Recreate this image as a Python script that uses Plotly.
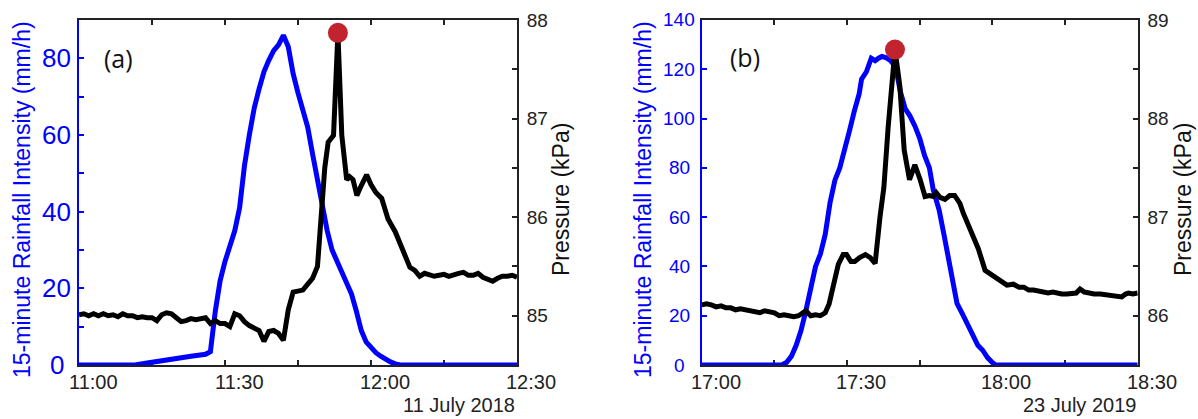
import plotly.graph_objects as go

# ---------------- data: panel (a) 11 July 2018 (minutes after 11:00) ----------------
rain_a_min = [0, 5, 10, 11.5, 14, 17, 20, 23, 26, 27, 28, 29, 30, 31, 32, 33, 34, 35, 36, 37, 38, 39, 40, 41,
              42, 43, 44, 45, 46, 47, 48, 49, 50, 51, 52, 53, 54, 55, 56, 57, 58, 59, 60, 61, 62, 63, 64, 65,
              66, 70, 80, 90]
rain_a = [0, 0, 0, 0, 0.5, 1.2, 1.9, 2.3, 2.8, 3.5, 14, 22, 27, 31, 35, 41, 52, 60, 67, 72, 76.5, 79.5, 82,
          83.5, 86, 83, 76, 71, 67, 62, 55, 48, 42, 35, 30, 27, 24, 21, 18.5, 14, 9, 6, 4.5, 3.2, 2.3, 1.5,
          0.8, 0.3, 0, 0, 0, 0]
pres_a_min = [0, 1, 2, 3, 4, 5, 6, 7, 8, 9, 10, 11, 12, 13, 14, 15, 16, 17, 18, 19, 20, 21, 22, 23, 24, 25,
              26, 27, 28, 29, 30, 31, 32, 33, 34, 35, 36, 37, 38, 39, 40, 41, 42, 43, 44, 45, 46, 47, 48, 49,
              49.8, 50.5, 51.2, 52.3, 53.2, 54, 55, 55.6, 56.3, 57.1, 58, 59.1, 60, 61, 62.2, 63.5, 65, 66.5,
              68, 69, 70, 71, 72, 73, 74, 75, 76, 77, 78, 79, 80, 81, 82, 83, 84, 85, 86, 87, 88, 89, 90]
pres_a = [85.01, 85.02, 85.0, 85.02, 85.0, 85.02, 85.0, 85.01, 84.99, 85.02, 85.0, 85.0, 84.98, 84.99,
          84.98, 84.98, 84.95, 85.01, 85.03, 85.02, 84.98, 84.94, 84.95, 84.97, 84.96, 84.97, 84.98, 84.92,
          84.95, 84.92, 84.92, 84.89, 85.02, 85.0, 84.94, 84.9, 84.87, 84.85, 84.74, 84.84, 84.85, 84.82,
          84.75, 85.06, 85.24, 85.25, 85.26, 85.32, 85.38, 85.5, 86.0, 86.5, 86.76, 86.83, 87.87, 86.83,
          86.38, 86.41, 86.38, 86.22, 86.32, 86.43, 86.33, 86.25, 86.19, 85.98, 85.85, 85.68, 85.49, 85.46,
          85.40, 85.43, 85.41, 85.40, 85.41, 85.42, 85.40, 85.42, 85.43, 85.44, 85.41, 85.41, 85.43, 85.39,
          85.37, 85.35, 85.38, 85.40, 85.40, 85.41, 85.39]
peak_a_min = [53.2]
peak_a = [87.87]
ticks_a_min = [0, 30, 60, 90]
ticks_a_text = ["11:00", "11:30", "12:00", "12:30"]
rain_a_labels = [0, 20, 40, 60, 80]

# ---------------- data: panel (b) 23 July 2019 (minutes after 17:00) ----------------
rain_b_min = [0, 10, 16.5, 17.5, 18.5, 19.5, 20.5, 21.5, 22.5, 23.5, 24.5, 25.5, 26.5, 27.5, 28.5, 29.5,
              30.5, 31.5, 32.5, 33, 34, 35, 35.8, 36.5, 37.2, 38, 39, 40, 41, 42, 43, 44, 45, 46, 47, 47.8,
              49, 50, 51, 52, 52.7, 54, 55.4, 57, 58, 59, 60, 60.7, 70, 90]
rain_b = [0, 0, 0, 1, 3.5, 8, 14, 22, 32, 40, 45, 53, 66, 75, 80, 87, 95, 103, 110, 116, 119, 124.5, 123.5,
          124.5, 125.2, 124.8, 123.5, 121, 111, 104, 101, 97, 92, 85, 80, 71, 63, 53, 43, 31, 25, 20, 14, 8,
          6, 3, 1, 0, 0, 0]
pres_b_min = [0, 1, 2, 3, 4, 5, 6, 7, 8, 9, 10, 11, 12, 13, 14, 15, 16, 17, 18, 19, 20, 21, 21.5, 22.5,
              23.5, 24.5, 25.5, 26.3, 27.3, 28.2, 29.2, 29.9, 30.8, 31.6, 32.6, 33.8, 34.8, 35.8, 36.8, 37.6,
              38.5, 39.9, 40.9, 41.8, 42.9, 44, 45.1, 46.1, 47, 47.8, 48.4, 49.2, 50.2, 51.2, 52.2, 53.3, 54,
              55.4, 57.1, 58.5, 59.9, 61, 62, 63, 64.3, 65.5, 66.5, 67.5, 68.5, 69.5, 70.5, 71.5, 72.5, 73.3,
              74.3, 75.4, 76.5, 77.3, 78.1, 79, 80, 81, 82.3, 83.5, 85, 86, 86.7, 87.5, 88.1, 89, 90]
pres_b = [86.11, 86.12, 86.11, 86.09, 86.1, 86.08, 86.08, 86.06, 86.07, 86.06, 86.05, 86.04, 86.03, 86.05,
          86.04, 86.03, 86.0, 86.01, 86.0, 85.99, 86.0, 86.04, 86.05, 86.0, 86.01, 86.0, 86.03, 86.12, 86.35,
          86.52, 86.62, 86.62, 86.55, 86.55, 86.59, 86.62, 86.59, 86.53, 87.0, 87.3, 87.92, 88.70, 88.33,
          87.68, 87.38, 87.53, 87.38, 87.21, 87.22, 87.21, 87.25, 87.2, 87.18, 87.22, 87.22, 87.14, 87.04,
          86.87, 86.68, 86.46, 86.41, 86.38, 86.34, 86.31, 86.32, 86.29, 86.29, 86.26, 86.26, 86.25, 86.24,
          86.23, 86.24, 86.23, 86.22, 86.22, 86.23, 86.23, 86.27, 86.24, 86.23, 86.22, 86.22, 86.21, 86.2,
          86.19, 86.19, 86.22, 86.23, 86.22, 86.23]
peak_b_min = [39.9]
peak_b = [88.70]
ticks_b_min = [0, 30, 60, 90]
ticks_b_text = ["17:00", "17:30", "18:00", "18:30"]
rain_b_labels = [0, 20, 40, 60, 80, 100, 120, 140]

# ---------------- text ----------------
rain_title = "15-minute Rainfall Intensity (mm/h)"
pres_title = "Pressure (kPa)"
panel_labels = ["(a)", "(b)"]
date_labels = ["11 July 2018", "23 July 2019"]

BLUE = "#0000FF"
BLACK = "#000000"
DARK = "#222222"
RED = "#C1232F"
FONT = "Liberation Sans"
LW = 5
AXW = 2
TKW = 2

fig = go.Figure()
fig.add_trace(go.Scatter(x=rain_a_min, y=rain_a, mode="lines",
                         line=dict(color=BLUE, width=LW), xaxis="x", yaxis="y"))
fig.add_trace(go.Scatter(x=pres_a_min, y=pres_a, mode="lines",
                         line=dict(color=BLACK, width=LW), xaxis="x", yaxis="y2"))
fig.add_trace(go.Scatter(x=peak_a_min, y=peak_a, mode="markers",
                         marker=dict(color=RED, size=20, line=dict(width=0)), xaxis="x", yaxis="y2"))
fig.add_trace(go.Scatter(x=rain_b_min, y=rain_b, mode="lines",
                         line=dict(color=BLUE, width=LW), xaxis="x2", yaxis="y3"))
fig.add_trace(go.Scatter(x=pres_b_min, y=pres_b, mode="lines",
                         line=dict(color=BLACK, width=LW), xaxis="x2", yaxis="y4"))
fig.add_trace(go.Scatter(x=peak_b_min, y=peak_b, mode="markers",
                         marker=dict(color=RED, size=20, line=dict(width=0)), xaxis="x2", yaxis="y4"))

W, H = 1198, 419
ydom = [1 - 365 / H, 1 - 20 / H]


def xaxis(dom, anchor):
    return dict(domain=dom, anchor=anchor, automargin=False, range=[0, 90],
                tick0=0, dtick=30, showticklabels=False,
                ticks="inside", ticklen=5, tickwidth=TKW, tickcolor=DARK,
                minor=dict(dtick=15, ticks="inside", ticklen=5, tickwidth=TKW, tickcolor=DARK, showgrid=False),
                showline=True, linecolor=DARK, linewidth=AXW, mirror="ticks", layer="below traces",
                showgrid=False, zeroline=False)


def yleft(dom_anchor, rng, dtick, minor):
    d = dict(anchor=dom_anchor, domain=ydom, range=rng, dtick=dtick, tick0=0, automargin=False,
             showticklabels=False, layer="below traces",
             ticks="inside", ticklen=5, tickwidth=TKW, tickcolor=BLUE, showline=True, linecolor=BLUE,
             linewidth=AXW, showgrid=False, zeroline=False)
    if minor:
        d["minor"] = dict(dtick=minor, ticks="inside", ticklen=5, tickwidth=TKW, tickcolor=BLUE,
                          showgrid=False)
    return d


def yright(dom_anchor, over, rng):
    return dict(anchor=dom_anchor, overlaying=over, side="right", range=rng, dtick=1, tick0=80,
                automargin=False, layer="below traces",
                ticks="inside", ticklen=5, tickwidth=TKW, tickcolor=DARK, showline=True, linecolor=DARK,
                linewidth=AXW, showgrid=False, zeroline=False,
                minor=dict(dtick=0.5, ticks="inside", ticklen=5, tickwidth=TKW, tickcolor=DARK,
                           showgrid=False),
                tickfont=dict(family=FONT, size=19, color=DARK), ticklabelstandoff=4)


annotations = []
# x tick labels (drawn slightly right of their ticks, as in the original figure)
for xref, vals, texts in [("x", ticks_a_min, ticks_a_text), ("x2", ticks_b_min, ticks_b_text)]:
    for v, t in zip(vals, texts):
        annotations.append(dict(x=v, xref=xref, y=1 - 382 / H, yref="paper", text=t, showarrow=False,
                                xanchor="center", yanchor="middle", xshift=14,
                                font=dict(family=FONT, size=20, color=DARK)))
# left (blue) tick labels, centred in their column as in the original
for yref, vals, cx, size in [("y", rain_a_labels, 56.5, 26), ("y3", rain_b_labels, 679, 19)]:
    for v in vals:
        annotations.append(dict(x=cx / W, xref="paper", y=v, yref=yref, text=str(v), showarrow=False,
                                xanchor="center", yanchor="middle",
                                font=dict(family=FONT, size=size, color=BLUE)))
for cx, txt, col in [(22, rain_title, BLUE), (561, pres_title, "#111"),
                     (643, rain_title, BLUE), (1183, pres_title, "#111")]:
    annotations.append(dict(x=cx / W, y=1 - 200 / H, xref="paper", yref="paper", text=txt,
                            textangle=-90, showarrow=False, xanchor="center", yanchor="middle",
                            font=dict(family=FONT, size=23, color=col)))
for cx, cy, txt in [(118, 58, panel_labels[0]), (745, 57, panel_labels[1])]:
    annotations.append(dict(x=cx / W, y=1 - cy / H, xref="paper", yref="paper", text=txt,
                            showarrow=False, xanchor="center", yanchor="middle",
                            font=dict(family="Open Sans", size=25, color="#111")))
for rx, txt in [(517, date_labels[0]), (1138, date_labels[1])]:
    annotations.append(dict(x=rx / W, y=1 - 405 / H, xref="paper", yref="paper", text=txt,
                            showarrow=False, xanchor="right", yanchor="middle",
                            font=dict(family=FONT, size=20, color=DARK)))

fig.update_layout(
    template="none",
    width=W, height=H, margin=dict(l=0, r=0, t=0, b=0, pad=0),
    paper_bgcolor="white", plot_bgcolor="white", showlegend=False,
    xaxis=xaxis([79 / W, 517 / W], "y"),
    xaxis2=xaxis([701.7 / W, 1137.7 / W], "y3"),
    yaxis=yleft("x", [0, 90], 20, 10),
    yaxis2=yright("x", "y", [84.5, 88]),
    yaxis3=yleft("x2", [0, 140], 20, None),
    yaxis4=yright("x2", "y3", [85.5, 89]),
    annotations=annotations,
)

fig.write_html("out.html")
